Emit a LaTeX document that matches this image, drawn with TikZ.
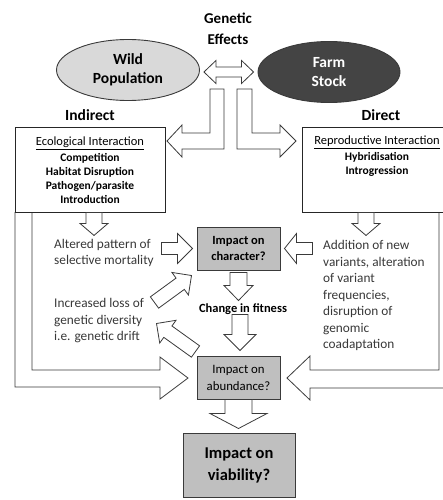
\documentclass[tikz,border=0pt]{standalone}
\usepackage{fontspec}
\setmainfont{Carlito}
\usetikzlibrary{calc,shapes.geometric}
\definecolor{rand}{HTML}{3A3A3A}
\definecolor{wildgrau}{HTML}{D9D9D9}
\definecolor{farmgrau}{HTML}{444444}
\definecolor{kasten}{HTML}{BFBFBF}
\definecolor{schrift}{HTML}{383838}
\tikzset{
  pfeil/.style={draw=rand,fill=white,line width=0.8pt,line join=miter},
  oval/.style={ellipse,draw=rand,line width=0.9pt,inner sep=0pt,align=center,
    font=\fontsize{15.5}{19}\selectfont\bfseries},
  frage/.style={draw=rand,fill=kasten,line width=1pt,align=center,inner sep=0pt,
    font=\fontsize{12.5}{16}\selectfont\bfseries},
  rahmen/.style={draw=black!85,line width=0.9pt,inner sep=0pt},
  liste/.style={align=center,inner sep=0pt,font=\fontsize{11.5}{14}\selectfont},
  seite/.style={align=left,inner sep=0pt,text=schrift,font=\fontsize{13.3}{16.5}\selectfont},
  titel/.style={inner sep=0pt,font=\fontsize{15.5}{18}\selectfont\bfseries},
}
% Blockpfeil von #1 nach #2: halbe Schaftbreite #3, halbe Kopfbreite #4, Kopflaenge #5
\newcommand{\blockpfeil}[5]{%
  \coordinate (kb) at ($(#2)!#5!(#1)$);
  \draw[pfeil] ($(#1)!#3!90:(#2)$) -- ($(kb)!#3!90:(#2)$) -- ($(kb)!#4!90:(#2)$) -- (#2)
    -- ($(kb)!#4!-90:(#2)$) -- ($(kb)!#3!-90:(#2)$) -- ($(#1)!#3!-90:(#2)$) -- cycle;}

\begin{document}
\begin{tikzpicture}[x=1pt,y=-1pt]
  \useasboundingbox (0,0) rectangle (443,500);
  \clip (0,0) rectangle (443,500);
  % ===== Kopf: Genetic Effects und die beiden Ovale =====
  \node[titel,font=\fontsize{15}{21.5}\selectfont\bfseries,align=center] (gen) at (228,29) {Genetic\\Effects};
  \node[oval,fill=wildgrau,minimum width=143pt,minimum height=61pt] (wild) at (128,70) {Wild\\Population};
  \node[oval,fill=farmgrau,text=white,minimum width=142pt,minimum height=61pt] (farm) at (329,72) {Farm\\Stock};
  \coordinate (w) at ($(wild.east)+(4,2)$);
  \coordinate (f) at ($(farm.west)+(-4,0)$);
  \draw[pfeil] (w) -- ++(12,-11.5) -- ++(0,6.5) -- ($(f)+(-12,-5)$) -- ++(0,-6.5) -- (f)
    -- ++(-12,11.5) -- ++(0,-6.5) -- ($(w)+(12,5)$) -- ++(0,6.5) -- cycle;
  \node[titel] (indirect) at (90,115) {Indirect};
  \node[titel] (direct) at (381,115) {Direct};
  % ===== Verzweigung nach links und rechts =====
  \draw[pfeil] (210,89) -- (224,89) -- (224,149) -- (182,149) -- (182,157) -- (167,141)
    -- (182,125) -- (182,133) -- (210,133) -- cycle;
  \draw[pfeil] (252,89) -- (237,89) -- (237,149) -- (280,149) -- (280,157) -- (296,141)
    -- (280,125) -- (280,133) -- (252,133) -- cycle;
  % ===== grosse Winkelpfeile am Rand (vor den Kaesten) =====
  \draw[pfeil,fill=none] (15,212) -- (15,387) -- (160,387) -- (160,399) -- (188,378)
    -- (160,357) -- (160,370) -- (32,370) -- (32,212);
  \draw[pfeil,fill=none] (452,212) -- (452,388) -- (310,388) -- (310,400) -- (287,378)
    -- (310,356) -- (310,370) -- (439,370) -- (439,212);
  % ===== Kaesten oben =====
  \node[rahmen,minimum width=150pt,minimum height=85pt] (eco) at (90,169.5) {};
  \node[liste] (ecotxt) at (90,170) {{\fontsize{12.5}{14}\selectfont\underline{Ecological Interaction}}\\[1.5pt]
    \textbf{Competition}\\\textbf{Habitat Disruption}\\\textbf{Pathogen/parasite}\\\textbf{Introduction}};
  \node[rahmen,minimum width=150pt,minimum height=85pt] (repro) at (377,169.5) {};
  \node[liste] (reprotxt) at (377,156) {{\fontsize{12.5}{14}\selectfont\underline{Reproductive Interaction}}\\[1.5pt]
    \textbf{Hybridisation}\\\textbf{Introgression}};
  % ===== Seitentexte =====
  \node[seite,anchor=west] (altered) at (54,253) {Altered pattern of\\selective mortality};
  \node[seite,anchor=west] (loss) at (54,321) {Increased loss of\\genetic diversity\\i.e. genetic drift};
  \node[seite,anchor=west] (addition) at (323,295.5) {Addition of new\\variants, alteration\\
    of variant\\frequencies,\\disruption of\\genomic\\coadaptation};
  % ===== Mittelspalte =====
  \node[frage,minimum width=83pt,minimum height=43pt] (char) at (238.5,248.5) {Impact on\\character?};
  \node[titel,font=\fontsize{12.5}{16}\selectfont\bfseries] (fitness) at (243,309) {Change in fitness};
  \node[frage,font=\fontsize{12.8}{17}\selectfont,minimum width=83pt,minimum height=43pt]
    (abund) at (238.5,377.5) {Impact on\\abundance?};
  \node[frage,font=\fontsize{16.5}{22}\selectfont\bfseries,minimum width=112pt,minimum height=64pt]
    (viab) at (239,465) {Impact on\\viability?};
  % ===== Blockpfeile zwischen den Knoten =====
  \coordinate (a1) at ($(eco.south)+(4,0)$);       \coordinate (a2) at ($(eco.south)+(4,23)$);
  \coordinate (b1) at ($(repro.south)+(-11,0)$);   \coordinate (b2) at ($(repro.south)+(-11,23)$);
  \coordinate (c1) at ($(char.west)+(-35,0)$);     \coordinate (c2) at ($(char.west)+(-4,0)$);
  \coordinate (d1) at ($(char.east)+(32,0)$);      \coordinate (d2) at ($(char.east)+(4,0)$);
  \coordinate (e1) at ($(char.south)+(0,2)$);      \coordinate (e2) at ($(char.south)+(0,30)$);
  \coordinate (f1) at ($(abund.north)+(1.5,-41)$); \coordinate (f2) at ($(abund.north)+(1.5,-5)$);
  \coordinate (g1) at (abund.south);               \coordinate (g2) at ($(abund.south)+(0,29)$);
  \coordinate (h1) at ($(char.south west)+(-42,32)$); \coordinate (h2) at ($(char.south west)+(-5,5)$);
  \coordinate (i1) at ($(abund.north west)+(-1,-4)$); \coordinate (i2) at ($(abund.north west)+(-40,-32)$);
  \foreach \von/\nach/\s/\k/\l in {a1/a2/8pt/14pt/12pt, b1/b2/8pt/14pt/12pt, c1/c2/6pt/15pt/15pt,
      d1/d2/6pt/15pt/12pt, e1/e2/8.5pt/14.5pt/15pt, f1/f2/8pt/16pt/16pt, g1/g2/13.5pt/28.5pt/15pt,
      h1/h2/7pt/14pt/14pt, i1/i2/7pt/14pt/14pt}
    {\blockpfeil{\von}{\nach}{\s}{\k}{\l}}
\end{tikzpicture}
\end{document}
